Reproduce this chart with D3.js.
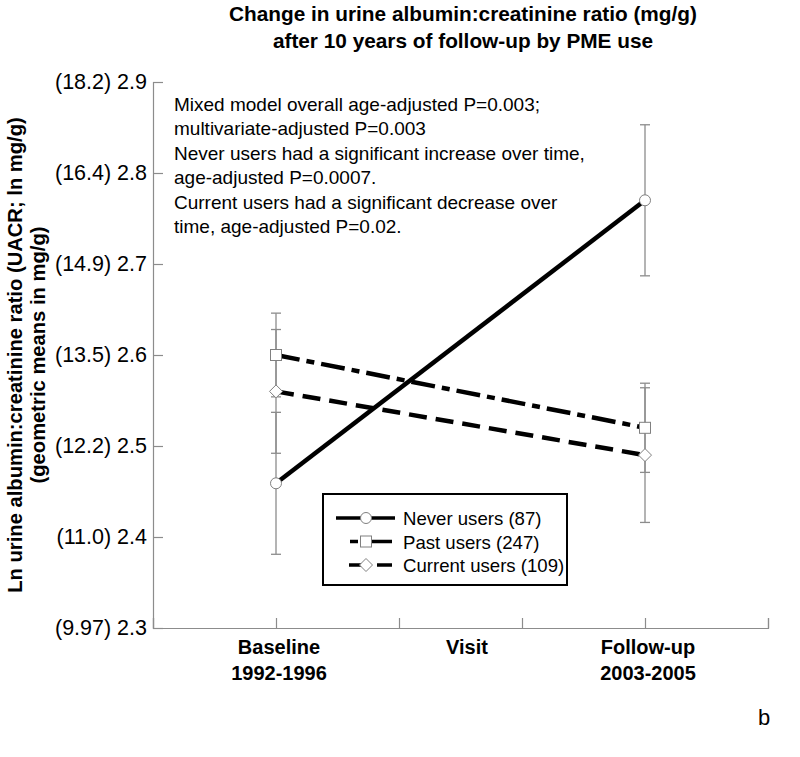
<!DOCTYPE html>
<html>
<head>
<meta charset="utf-8">
<script src="https://cdn.jsdelivr.net/npm/d3@7"></script>
<style>
  body { margin: 0; background: #fff; }
  svg { display: block; font-family: "Liberation Sans", Arial, sans-serif; }
</style>
</head>
<body>
<svg id="chart" width="800" height="757"></svg>
<script>
// ---- data ----
const visits = ["Baseline", "Follow-up"];
const visitX = [1, 4];
const visitLabels = [["Baseline", "1992-1996"], ["Follow-up", "2003-2005"]];
const seriesNames = ["Never users (87)", "Past users (247)", "Current users (109)"];
const neverMean = [2.459, 2.770];
const neverErr = [0.078, 0.083];
const pastMean = [2.600, 2.520];
const pastErr = [0.046, 0.049];
const currentMean = [2.560, 2.490];
const currentErr = [0.068, 0.074];
const yTicks = [2.3, 2.4, 2.5, 2.6, 2.7, 2.8, 2.9];
const yTickLabels = ["(9.97) 2.3", "(11.0) 2.4", "(12.2) 2.5", "(13.5) 2.6", "(14.9) 2.7", "(16.4) 2.8", "(18.2) 2.9"];
const xTicks = [0, 1, 2, 3, 4, 5];
const titleLines = ["Change in urine albumin:creatinine ratio (mg/g)", "after 10 years of follow-up by PME use"];
const yTitleLines = ["Ln urine albumin:creatinine ratio (UACR; ln mg/g)", "(geometric means in mg/g)"];
const annotationLines = [
  "Mixed model overall age-adjusted P=0.003;",
  "multivariate-adjusted P=0.003",
  "Never users had a significant increase over time,",
  "age-adjusted P=0.0007.",
  "Current users had a significant decrease over",
  "time, age-adjusted P=0.02."
];

const series = [
  { name: seriesNames[0], mean: neverMean, err: neverErr, dash: null, legendDash: null, marker: "circle" },
  { name: seriesNames[1], mean: pastMean, err: pastErr, dash: "24,7,8,7", legendDash: "0,14,8,3,31,10", marker: "square" },
  { name: seriesNames[2], mean: currentMean, err: currentErr, dash: "18,9", legendDash: "0,13,16,12,15,10", marker: "diamond" }
];

// ---- layout ----
const svg = d3.select("#chart");
const plotLeft = 153, plotRight = 768, plotTop = 82, plotBottom = 628;
const x = d3.scaleLinear().domain([0, 5]).range([plotLeft, plotRight]);
const y = d3.scaleLinear().domain([2.3, 2.9]).range([plotBottom, plotTop]);
const axisColor = "#8c8c8c";

// title
svg.append("g").selectAll("text").data(titleLines).join("text")
  .attr("x", 463).attr("y", (d, i) => 21 + i * 27)
  .attr("text-anchor", "middle").attr("font-weight", "bold").attr("font-size", 20.8)
  .text(d => d);

// y axis
const yAxis = d3.axisLeft(y).tickValues(yTicks).tickSize(-10)
  .tickFormat((d, i) => yTickLabels[i]).tickPadding(16);
const gy = svg.append("g").attr("transform", `translate(${plotLeft},0)`).call(yAxis);
gy.select(".domain").attr("stroke", axisColor).attr("stroke-width", 1.2);
gy.selectAll(".tick line").attr("stroke", axisColor).attr("stroke-width", 1.2);
gy.selectAll(".tick text").attr("font-size", 21.5).attr("fill", "#000")
  .attr("font-family", "Liberation Sans, Arial, sans-serif").attr("x", -6);

// x axis
const xAxis = d3.axisBottom(x).tickValues(xTicks).tickSize(-10).tickFormat("");
const gx = svg.append("g").attr("transform", `translate(0,${plotBottom})`).call(xAxis);
gx.select(".domain").attr("stroke", axisColor).attr("stroke-width", 1.2);
gx.selectAll(".tick line").attr("stroke", axisColor).attr("stroke-width", 1.2);

// x labels
visitLabels.forEach((lines, i) => {
  svg.append("g").selectAll("text").data(lines).join("text")
    .attr("x", x(visitX[i]) + 3).attr("y", (d, j) => 654 + j * 26)
    .attr("text-anchor", "middle").attr("font-weight", "bold").attr("font-size", 20)
    .text(d => d);
});
svg.append("text").attr("x", 467).attr("y", 654).attr("text-anchor", "middle")
  .attr("font-weight", "bold").attr("font-size", 20).text("Visit");

// y title
svg.append("g").selectAll("text").data(yTitleLines).join("text")
  .attr("transform", (d, i) => `translate(${22 + i * 23},355) rotate(-90)`)
  .attr("text-anchor", "middle").attr("font-weight", "bold").attr("font-size", 20.2)
  .text(d => d);

// annotation
svg.append("g").selectAll("text").data(annotationLines).join("text")
  .attr("x", 174).attr("y", (d, i) => 111 + i * 24.4)
  .attr("font-size", 19).text(d => d);

// markers
function drawMarker(g, type, cx, cy) {
  const s = 5.5;
  if (type === "circle") {
    g.append("circle").attr("cx", cx).attr("cy", cy).attr("r", s)
      .attr("fill", "#fff").attr("stroke", "#808080").attr("stroke-width", 1);
  } else if (type === "square") {
    g.append("rect").attr("x", cx - s).attr("y", cy - s).attr("width", 2 * s).attr("height", 2 * s)
      .attr("fill", "#fff").attr("stroke", "#808080").attr("stroke-width", 1);
  } else {
    const d = 6.5;
    g.append("path").attr("d", `M${cx},${cy - d}L${cx + d},${cy}L${cx},${cy + d}L${cx - d},${cy}Z`)
      .attr("fill", "#fff").attr("stroke", "#808080").attr("stroke-width", 1);
  }
}

const plot = svg.append("g");
// error bars
series.forEach(s => {
  s.mean.forEach((m, i) => {
    const cx = x(visitX[i]);
    const g = plot.append("g").attr("stroke", "#8c8c8c").attr("stroke-width", 1.3);
    g.append("line").attr("x1", cx).attr("x2", cx).attr("y1", y(m - s.err[i])).attr("y2", y(m + s.err[i]));
    [m - s.err[i], m + s.err[i]].forEach(v => {
      g.append("line").attr("x1", cx - 5).attr("x2", cx + 5).attr("y1", y(v)).attr("y2", y(v));
    });
  });
});
// lines
const line = d3.line().x((d, i) => x(visitX[i])).y(d => y(d));
series.forEach(s => {
  plot.append("path").datum(s.mean).attr("d", line)
    .attr("fill", "none").attr("stroke", "#000").attr("stroke-width", 4.5)
    .attr("stroke-dasharray", s.dash);
});
series.forEach(s => {
  s.mean.forEach((m, i) => drawMarker(plot, s.marker, x(visitX[i]), y(m)));
});

// legend
const lg = svg.append("g");
lg.append("rect").attr("x", 323).attr("y", 494).attr("width", 244).attr("height", 91)
  .attr("fill", "#fff").attr("stroke", "#000").attr("stroke-width", 2);
series.forEach((s, i) => {
  const ry = 518 + i * 23.5;
  lg.append("line").attr("x1", 336).attr("x2", 395).attr("y1", ry).attr("y2", ry)
    .attr("stroke", "#000").attr("stroke-width", 3.5).attr("stroke-dasharray", s.legendDash);
  drawMarker(lg, s.marker, 366, ry);
  lg.append("text").attr("x", 403).attr("y", ry + 7).attr("font-size", 18.6).text(s.name);
});

// panel letter
svg.append("text").attr("x", 758).attr("y", 725).attr("font-size", 22).text("b");
</script>
</body>
</html>
